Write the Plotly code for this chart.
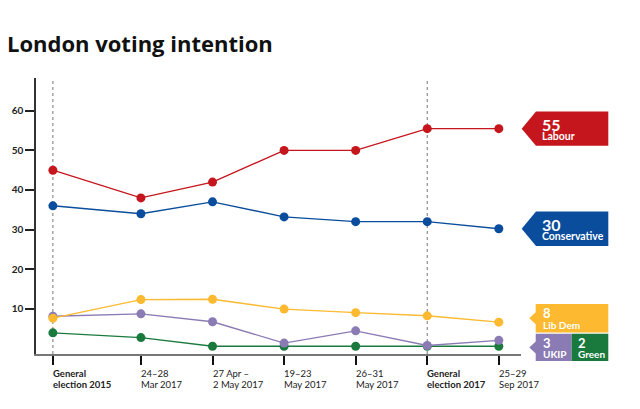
import plotly.graph_objects as go

# ---- data ----
periods = ["General election 2015", "24–28 Mar 2017", "27 Apr – 2 May 2017",
           "19–23 May 2017", "26–31 May 2017", "General election 2017", "25–29 Sep 2017"]
label_line1 = ["General", "24–28", "27 Apr –", "19–23", "26–31", "General", "25–29"]
label_line2 = ["election 2015", "Mar 2017", "2 May 2017", "May 2017", "May 2017",
               "election 2017", "Sep 2017"]
is_election = [True, False, False, False, False, True, False]
xpos = [-0.23, 1, 2, 3, 4, 5, 6]

labour = [45, 38, 42, 50, 50, 55.5, 55.5]
conservative = [36, 34, 37, 33.2, 32, 32, 30.2]
libdem = [7.6, 12.3, 12.4, 9.9, 9, 8.2, 6.6]
ukip = [8.1, 8.7, 6.7, 1.3, 4.4, 0.7, 2]
green = [3.9, 2.7, 0.5, 0.5, 0.5, 0.5, 0.5]

latest = {"Labour": 55, "Conservative": 30, "Lib Dem": 8, "UKIP": 3, "Green": 2}
yticks = [10, 20, 30, 40, 50, 60]

colors = {"Labour": "#C4161C", "Conservative": "#0A4D9C", "Lib Dem": "#FDB92F",
          "UKIP": "#8B7BB5", "Green": "#1A7A3E"}

FONT = "Lato"
YMIN, YMAX = -1.45, 68.3

fig = go.Figure()
series = [("Green", green), ("UKIP", ukip), ("Lib Dem", libdem),
          ("Conservative", conservative), ("Labour", labour)]
for name, vals in series:
    fig.add_trace(go.Scatter(
        x=xpos, y=vals, mode="lines+markers", name=name,
        line=dict(color=colors[name], width=1.4),
        marker=dict(color=colors[name], size=9),
        showlegend=False, hoverinfo="skip"))

# vertical dotted election lines
for xp, el in zip(xpos, is_election):
    if el:
        fig.add_shape(type="line", xref="x", yref="paper", x0=xp, x1=xp, y0=0, y1=1,
                      line=dict(color="#777", width=1, dash="dot"), layer="below")

# x tick labels (two lines, left aligned)
for xp, l1, l2, el in zip(xpos, label_line1, label_line2, is_election):
    for txt, ys in ((l1, -12), (l2, -23)):
        t = f"<b>{txt}</b>" if el else txt
        fig.add_annotation(x=xp, y=0, xref="x", yref="paper", text=t, showarrow=False,
                           xanchor="left", yanchor="top", yshift=ys, xshift=-2,
                           font=dict(family=FONT, size=9.5, color="#222"))


def to_paper(v):
    return (v - YMIN) / (YMAX - YMIN)


# right-hand tags
def tag(yval, path, color):
    fig.add_shape(type="path", xref="paper", yref="paper", xsizemode="pixel",
                  ysizemode="pixel", xanchor=1, yanchor=to_paper(yval), path=path,
                  fillcolor=color, line=dict(width=0))


def tag_text(yval, xshift, num, label, numsize, labsize, base, dy):
    txt = (f"<span style='font-size:{numsize}px'><b>{num}</b></span><br>"
           f"<span style='font-size:{labsize}px'><b>{label}</b></span>")
    fig.add_annotation(x=1, y=yval, xref="paper", yref="y", text=txt,
                       showarrow=False, xanchor="left", yanchor="middle", align="left",
                       xshift=xshift, yshift=dy, borderpad=0,
                       font=dict(family=FONT, size=base, color="white"))


big = "M 0.7 0 L 15 17.2 L 87.3 17.2 L 87.3 -17.2 L 15 -17.2 Z"
tag(labour[-1], big, colors["Labour"])
tag(conservative[-1], big, colors["Conservative"])
ld_y = 7.6
ld_path = ("M 14.7 14.3 L 87.3 14.3 L 87.3 -14.3 L 14.7 -14.3 L 14.7 -6 "
           "L 8.3 0 L 14.7 6 Z")
tag(ld_y, ld_path, colors["Lib Dem"])
ug_y = 0.2
uk_path = ("M 14.7 13.6 L 50.7 13.6 L 50.7 -13.6 L 14.7 -13.6 L 14.7 -6 "
           "L 8.3 0 L 14.7 6 Z")
tag(ug_y, uk_path, colors["UKIP"])
gr_path = "M 50.7 13.6 L 87.3 13.6 L 87.3 -13.6 L 50.7 -13.6 Z"
tag(ug_y, gr_path, colors["Green"])

tag_text(labour[-1], 20, latest["Labour"], "Labour", 16, 10.5, 7.2, 0)
tag_text(conservative[-1], 20, latest["Conservative"], "Conservative", 16, 10.5, 7.2, 0)
tag_text(ld_y, 21, latest["Lib Dem"], "Lib Dem", 13, 10, 8.2, 0)
tag_text(ug_y, 21, latest["UKIP"], "UKIP", 13, 10, 7.8, 0)
tag_text(ug_y, 56, latest["Green"], "Green", 13, 10, 7.8, 0)

fig.update_layout(
    width=640, height=409,
    margin=dict(l=33, r=119, t=78, b=55),
    paper_bgcolor="white", plot_bgcolor="white",
    title=dict(text="<b>London voting intention</b>", x=7 / 640, xanchor="left",
               xref="container", y=1 - 37 / 409, yanchor="top", yref="container",
               font=dict(family="Open Sans", size=22, color="#111")),
    xaxis=dict(range=[-0.466, 6.31], showgrid=False, zeroline=False,
               showline=True, linecolor="#777", linewidth=2,
               tickvals=xpos, ticks="outside", ticklen=9, tickwidth=1.5,
               tickcolor="#111", showticklabels=False),
    yaxis=dict(range=[YMIN, YMAX], showgrid=False, zeroline=False,
               showline=True, linecolor="#333", linewidth=1.5,
               tickvals=yticks, ticks="outside", ticklen=9, tickwidth=1.5,
               tickcolor="#222",
               tickfont=dict(family=FONT, size=10, color="#222", weight="bold")),
)

fig.write_html("out.html")
